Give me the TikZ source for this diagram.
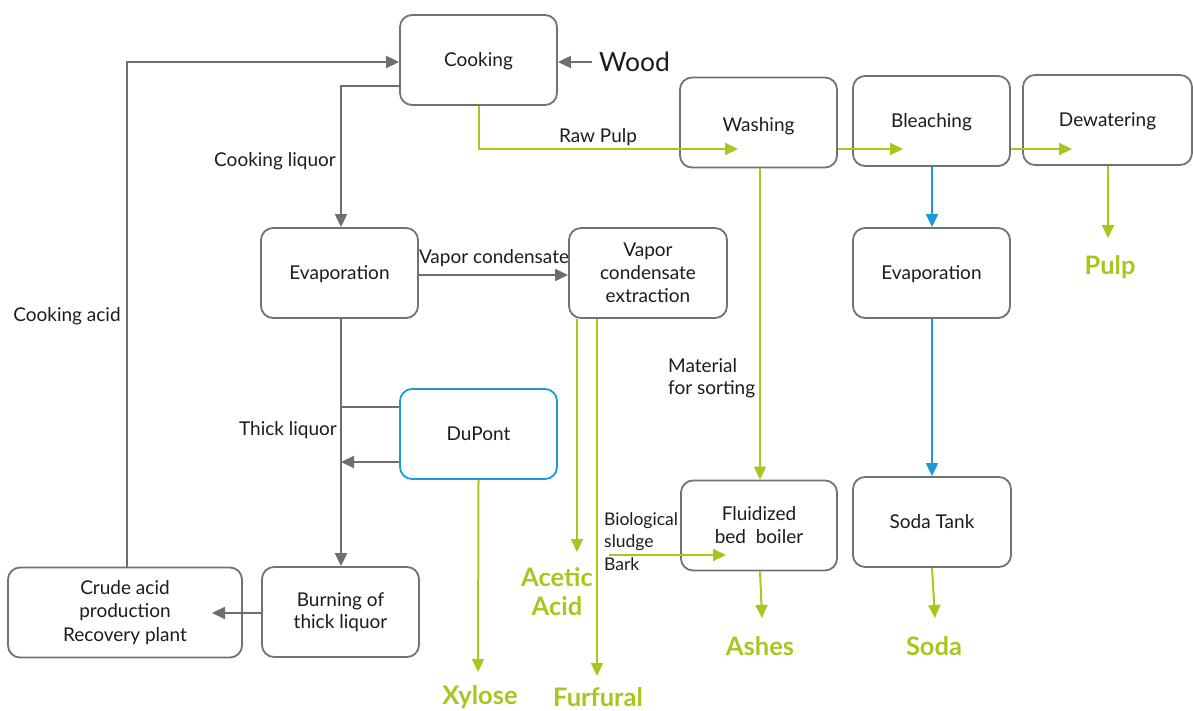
\documentclass[tikz,border=0pt]{standalone}
\usepackage{fontspec}
\setmainfont{Lato}
\usetikzlibrary{arrows.meta}
\definecolor{boxgray}{HTML}{727272}
\definecolor{linegray}{HTML}{6E6E6E}
\definecolor{leaf}{HTML}{A8C61E}
\definecolor{sky}{HTML}{1A9BD7}
\definecolor{ink}{HTML}{1C1C1C}
\tikzset{
  stage/.style={draw=boxgray, line width=1.8pt, rounded corners=12pt, fill=white,
    minimum width=157pt, minimum height=90pt, align=center, text=ink,
    font=\fontsize{19}{23}\selectfont, inner sep=2pt},
  flat/.style={text depth=0pt},
  lbl/.style={text=ink, font=\fontsize{19}{23}\selectfont, inner sep=0pt},
  product/.style={text=leaf, font=\bfseries\fontsize{25.5}{29}\selectfont, align=center, inner sep=0pt},
  gflow/.style={draw=linegray, line width=2pt, -{Triangle[length=13pt,width=12pt]}},
  gline/.style={draw=linegray, line width=2pt},
  lflow/.style={draw=leaf, line width=2pt, -{Triangle[length=13pt,width=12pt]}},
  bflow/.style={draw=sky, line width=2pt, -{Triangle[length=13pt,width=12pt]}},
}
\begin{document}
\begin{tikzpicture}[x=1pt,y=-1pt]
\useasboundingbox (0,0) rectangle (1193,711);

% process stages
\node[stage, flat] (cook)   at (478.5,60)    {Cooking};
\node[stage] (wash)   at (758.5,122.5) {\\[-2pt]Washing};
\node[stage, flat] (bleach) at (931.5,121)   {Bleaching};
\node[stage, flat, minimum width=169pt] (dewat) at (1107.5,120) {Dewatering};
\node[stage, flat] (evap)   at (339.5,273)   {Evaporation};
\node[stage, minimum width=158pt] (vce) at (648,273) {Vapor\\condensate\\extraction};
\node[stage, flat, draw=sky] (dupont) at (478.5,434) {DuPont};
\node[stage, flat] (evapb)  at (931.5,273)   {Evaporation};
\node[stage, minimum width=156pt] (fbb) at (759,525.5) {Fluidized\\bed\ \ boiler};
\node[stage, minimum width=158pt] (soda) at (932,522) {\raisebox{-2pt}{Soda Tank}};
\node[stage, minimum width=234pt, font=\fontsize{19}{23.5}\selectfont] (crude) at (125,612.5) {Crude acid\\production\\Recovery plant};
\node[stage, font=\fontsize{19}{22}\selectfont] (burn) at (340.5,612) {Burning of\\thick liquor};

% raw material and products
\node[lbl, anchor=west, font=\fontsize{26.5}{30}\selectfont] (wood) at (599,62) {Wood};
\node[product] (pulp)   at (1110,267) {Pulp};
\node[product] (acetic) at (557,592)  {Acetic\\Acid};
\node[product] (xylose) at (480,697)  {Xylose};
\node[product] (furf)   at (598,697)  {Furfural};
\node[product] (ashes)  at (760,646)  {Ashes};
\node[product] (sodap)  at (934,646)  {Soda};

% stream labels
\node[lbl] (lrawpulp) at (598,137) {Raw Pulp};
\node[lbl] (lcookliq) at (275,161) {Cooking liquor};
\node[lbl] (lcookacid) at (67,316) {Cooking acid};
\node[lbl] (lvapor) at (494,258) {Vapor condensate};
\node[lbl] (lthick) at (288,430) {Thick liquor};
\node[lbl, anchor=north west, align=left, font=\fontsize{19}{22}\selectfont] (lsort) at (668,358) {Material\\for sorting};
\node[lbl, anchor=north west, align=left, font=\fontsize{17.5}{22.5}\selectfont] (lsludge) at (604,512) {Biological\\sludge\\Bark};

% connector end points
\coordinate (woodtip) at (592,62);
\coordinate (rawend) at (738,149);
\coordinate (washend) at (903,149);
\coordinate (bleachend) at (1072,149);
\coordinate (liqstart) at (400,86);
\coordinate (junctop) at (341,407);
\coordinate (junclow) at (341,462);
\coordinate (sludgestart) at (609,555);
\coordinate (sludgeend) at (726,555);
\coordinate (burnend) at (212,613);
\coordinate (acidtip) at (577,552);
\coordinate (furftip) at (597,676);
\coordinate (xyltip) at (478,672);

% grey streams
\draw[gflow] (woodtip) -- (cook.east |- woodtip);
\draw[gflow] (crude.north -| 127,0) |- (cook.west |- woodtip);
\draw[gflow] (liqstart) -| (evap.north -| junctop);
\draw[gflow] (evap.east |- 0,275) -- (vce.west |- 0,275);
\draw[gflow] (evap.south -| junctop) -- (burn.north -| junctop);
\draw[gline] (dupont.west |- junctop) -- (junctop);
\draw[gflow] (dupont.west |- junclow) -- (junclow);
\draw[gflow] (burn.west |- burnend) -- (burnend);

% pulp line
\draw[lflow] (cook.south) |- (rawend);
\draw[lflow] (wash.east |- washend) -- (washend);
\draw[lflow] (bleach.east |- bleachend) -- (bleachend);
\draw[lflow] (dewat.south -| 1108,0) -- (1108,238);

% by-products
\draw[lflow] (dupont.south) -- (xyltip);
\draw[lflow] (vce.south -| acidtip) -- (acidtip);
\draw[lflow] (vce.south -| furftip) -- (furftip);
\draw[lflow] (wash.south -| 760,0) -- (fbb.north -| 760,0);
\draw[lflow] (sludgestart) -- (sludgeend);
\draw[lflow] (fbb.south -| 760,0) -- (762,618);
\draw[lflow] (soda.south -| 932,0) -- (935,618);

% liquor recovery
\draw[bflow] (bleach.south -| 932,0) -- (evapb.north -| 932,0);
\draw[bflow] (evapb.south -| 932,0) -- (soda.north -| 932,0);
\end{tikzpicture}
\end{document}
